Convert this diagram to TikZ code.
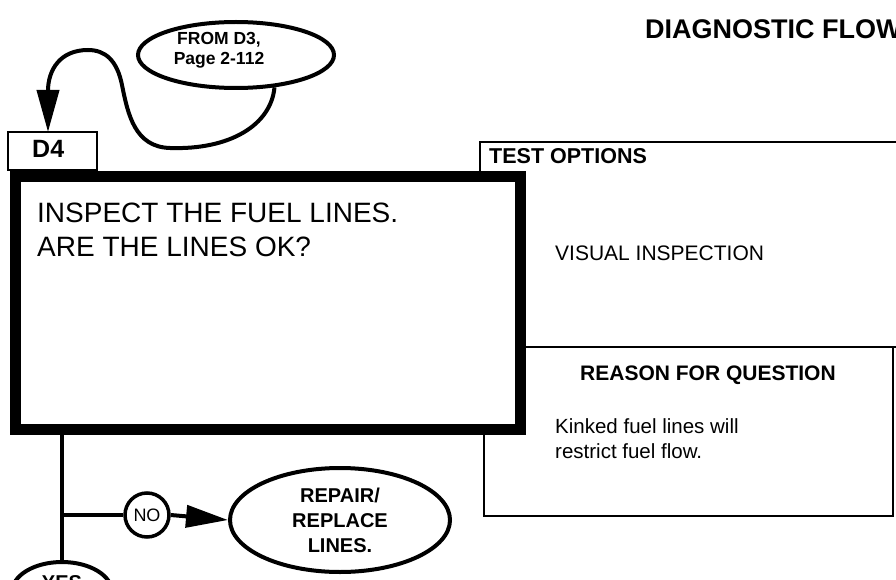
\documentclass[tikz,border=0pt]{standalone}
\usepackage{fontspec}
\setmainfont{Liberation Sans}
\usetikzlibrary{shapes.geometric,arrows.meta}
\newcommand{\fsz}[1]{\fontsize{#1}{#1}\selectfont}
\begin{document}
\begin{tikzpicture}[x=1pt,y=-1pt,
  thinbox/.style={draw,line width=2.5pt,inner sep=0pt,outer sep=0pt},
  thickbox/.style={draw,fill=white,line width=11pt,inner sep=0pt},
  conn/.style={line width=4pt},
  bigarrow/.style={-{Triangle[length=42pt,width=22pt]}},
  oval/.style={ellipse,draw,line width=4pt,inner sep=0pt},
  txt/.style={inner sep=0pt,anchor=base west},
  ctxt/.style={inner sep=0pt,anchor=base},
  bold/.style={font=\bfseries\fsz{#1}},
  reg/.style={font=\fsz{#1}}]
\useasboundingbox (0,0) rectangle (896,580);
\clip (0,0) rectangle (896,580);

% boxes behind the main box
\node[thinbox,minimum width=440pt,minimum height=205pt] (test) at (700,244.5) {};
\node[thinbox,minimum width=409pt,minimum height=169pt] (reason) at (688.5,431.5) {};
\node[thinbox,minimum width=89pt,minimum height=38pt] (d4) at (52.5,151) {};
\node[thickbox,minimum width=505pt,minimum height=253pt] (q) at (268,303) {};

% labels
\node[txt,bold=25] (d4t) at (32,158) {D4};
\node[txt,reg=28] (q1) at (37,222) {INSPECT THE FUEL LINES.};
\node[txt,reg=28] (q2) at (37,256) {ARE THE LINES OK?};
\node[txt,bold=27] (title) at (645,39) {DIAGNOSTIC FLOW};
\node[txt,bold=21.5] (testt) at (489,164) {TEST OPTIONS};
\node[txt,reg=21] (vis) at (555,260) {VISUAL INSPECTION};
\node[txt,bold=21] (reat) at (580,380) {REASON FOR QUESTION};
\node[txt,reg=20.5] (k1) at (555,433) {Kinked fuel lines will};
\node[txt,reg=20.5] (k2) at (555,458) {restrict fuel flow.};

% entry oval
\node[oval,minimum width=196pt,minimum height=66pt] (from) at (236,55) {};
\node[ctxt,bold=17.5] (f1) at (219,45) {FROM D3,};
\node[ctxt,bold=17.5] (f2) at (219,65) {Page 2-112};
\draw[conn,bigarrow] (from.-40) .. controls (271,125) and (230,150) .. (170,148)
  .. controls (135,147) and (128,115) .. (122,85)
  .. controls (117,60) and (105,50) .. (88,50)
  .. controls (60,50) and (48,70) .. ([xshift=-4.5pt]d4.north);

% outcomes
\node[circle,draw,line width=3.5pt,minimum size=44pt,inner sep=0pt,reg=18] (no) at (147,515) {NO};
\node[oval,minimum width=220pt,minimum height=104pt] (repair) at (340,520) {};
\node[ctxt,bold=20] (r1) at (340,502) {REPAIR/};
\node[ctxt,bold=20] (r2) at (340,527) {REPLACE};
\node[ctxt,bold=20] (r3) at (340,552) {LINES.};
\node[oval,minimum width=100pt,minimum height=60pt] (yes) at (62,592) {};
\node[ctxt,bold=20] (yt) at (62,589) {YES};

\coordinate (j) at (62,515);
\draw[conn] (q.south -| j) -- (yes.north);
\draw[conn] (j) -- (no.west);
\draw[conn,bigarrow] (no.east) -- (repair.west);
\end{tikzpicture}
\end{document}
